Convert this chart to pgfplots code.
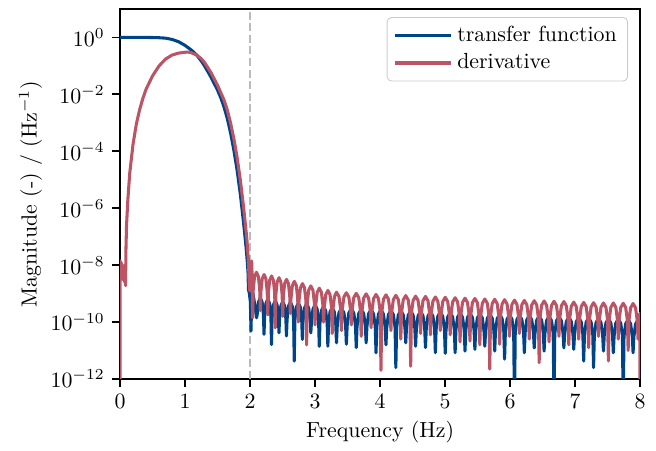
\documentclass[border=0pt]{standalone}
\usepackage{pgfplots}
\pgfplotsset{compat=1.18}
\definecolor{tolblue}{HTML}{004488}
\definecolor{tolred}{HTML}{BB5566}
\definecolor{dashgray}{HTML}{BBBBBB}
\begin{document}
\begin{tikzpicture}
\begin{axis}[
  scale only axis,
  width=237.8pt, height=169.2pt,
  xmin=0, xmax=8, ymin=1e-12, ymax=10,
  ymode=log,
  xtick={0,1,2,3,4,5,6,7,8},
  ytick={1e-12,1e-10,1e-8,1e-6,1e-4,1e-2,1},
  yminorticks=false,
  tick align=outside,
  tick pos=left,
  major tick length=3.5pt,
  every tick/.style={black, line width=0.8pt},
  axis line style={line width=0.8pt},
  xlabel={Frequency (Hz)},
  ylabel={Magnitude (-) / (Hz$^{-1}$)},
  ylabel shift=-3pt,
  xlabel shift=-1pt,
  legend style={at={(0.977,0.978)}, anchor=north east, draw=black!20, rounded corners=2pt, fill=white, fill opacity=0.8, text opacity=1, font=\normalsize},
  legend cell align=left,
  legend image code/.code={\draw[#1, line width=1.5pt] (0cm,0cm) -- (0.9cm,0cm);},
]
\addplot[forget plot, color=dashgray, dash pattern=on 3.7pt off 1.6pt, line width=1pt] coordinates {(2,1e-12) (2,10)};

% transfer function
\addplot[tolblue, line width=1.4pt, line join=round] coordinates {
(0,1) (0.4,1) (0.5,0.993) (0.6,0.977) (0.7,0.944) (0.8,0.851) (0.9,0.708) (1.0,0.525) (1.1,0.355) (1.18,0.24) (1.25,0.148) (1.3,0.1) (1.4,0.0398) (1.5,0.0141) (1.555,7.08e-3) (1.6,3.55e-3) (1.65,1.41e-3) (1.7,4.47e-4) (1.75,1.12e-4) (1.8,2.24e-5) (1.85,3.16e-6) (1.9,3.16e-7) (1.94,3.98e-8) (1.96,1.12e-8) (1.97,5.01e-9) (1.975,1.41e-9)
(1.99,1.0e-9) (2.005,5.0e-10) (2.015,4.79e-11) (2.025,7.94e-10) (2.04,1.12e-9) (2.06,6.31e-10) (2.085,2.51e-10) (2.10,1.41e-10)
(2.109,1.78e-10) (2.129,5.01e-10) (2.158,7.08e-10) (2.186,5.01e-10) (2.206,1.78e-10) (2.215,3.72e-11)
(2.224,1.58e-10) (2.244,4.47e-10) (2.273,6.31e-10) (2.301,4.47e-10) (2.321,1.58e-10) (2.33,1.62e-11)
(2.339,1.41e-10) (2.359,3.98e-10) (2.388,5.62e-10) (2.416,3.98e-10) (2.436,1.41e-10) (2.445,4.17e-11)
(2.454,1.32e-10) (2.474,3.72e-10) (2.503,5.25e-10) (2.531,3.72e-10) (2.551,1.32e-10) (2.56,3.24e-11)
(2.57,1.26e-10) (2.59,3.55e-10) (2.62,5.01e-10) (2.65,3.55e-10) (2.67,1.26e-10) (2.68,4.27e-12)
(2.69,1.17e-10) (2.711,3.31e-10) (2.743,4.68e-10) (2.774,3.31e-10) (2.795,1.17e-10) (2.805,2.45e-11)
(2.815,1.10e-10) (2.8375,3.09e-10) (2.87,4.37e-10) (2.9025,3.09e-10) (2.925,1.10e-10) (2.935,4.17e-11)
(2.945,1.0e-10) (2.9675,2.82e-10) (3.0,3.98e-10) (3.0325,2.82e-10) (3.055,1.0e-10) (3.065,1.41e-11)
(3.0755,8.91e-11) (3.098,2.51e-10) (3.131,3.55e-10) (3.164,2.51e-10) (3.1865,8.91e-11) (3.197,1.41e-11)
(3.2075,7.94e-11) (3.230,2.24e-10) (3.264,3.16e-10) (3.297,2.24e-10) (3.319,7.94e-11) (3.33,1.86e-11)
(3.342,7.59e-11) (3.368,2.14e-10) (3.406,3.02e-10) (3.444,2.14e-10) (3.470,7.59e-11) (3.482,1.66e-11)
(3.494,7.41e-11) (3.520,2.09e-10) (3.558,2.95e-10) (3.596,2.09e-10) (3.622,7.41e-11) (3.634,1.26e-11)
(3.646,7.08e-11) (3.672,2.0e-10) (3.710,2.82e-10) (3.748,2.0e-10) (3.774,7.08e-11) (3.786,1.86e-11)
(3.798,6.92e-11) (3.824,1.95e-10) (3.862,2.75e-10) (3.900,1.95e-10) (3.926,6.92e-11) (3.938,8.32e-12)
(3.950,6.76e-11) (3.976,1.91e-10) (4.014,2.69e-10) (4.052,1.91e-10) (4.078,6.76e-11) (4.091,1.58e-11)
(4.103,6.46e-11) (4.129,1.82e-10) (4.167,2.57e-10) (4.205,1.82e-10) (4.231,6.46e-11) (4.243,2.51e-12)
(4.255,6.31e-11) (4.281,1.78e-10) (4.319,2.51e-10) (4.357,1.78e-10) (4.383,6.31e-11) (4.395,1.86e-11)
(4.407,6.17e-11) (4.433,1.74e-10) (4.471,2.45e-10) (4.509,1.74e-10) (4.535,6.17e-11) (4.547,1.41e-11)
(4.559,5.89e-11) (4.585,1.66e-10) (4.623,2.34e-10) (4.661,1.66e-10) (4.687,5.89e-11) (4.699,1.26e-11)
(4.711,5.75e-11) (4.737,1.62e-10) (4.775,2.29e-10) (4.813,1.62e-10) (4.839,5.75e-11) (4.851,8.32e-12)
(4.863,5.62e-11) (4.889,1.58e-10) (4.927,2.24e-10) (4.965,1.58e-10) (4.991,5.62e-11) (5.003,7.94e-12)
(5.015,5.37e-11) (5.041,1.51e-10) (5.079,2.14e-10) (5.117,1.51e-10) (5.143,5.37e-11) (5.155,8.32e-12)
(5.167,5.25e-11) (5.193,1.48e-10) (5.231,2.09e-10) (5.269,1.48e-10) (5.295,5.25e-11) (5.307,9.55e-12)
(5.319,5.13e-11) (5.345,1.45e-10) (5.383,2.04e-10) (5.421,1.45e-10) (5.447,5.13e-11) (5.459,1.10e-11)
(5.471,4.90e-11) (5.497,1.38e-10) (5.535,1.95e-10) (5.573,1.38e-10) (5.599,4.90e-11) (5.612,1.41e-11)
(5.624,4.79e-11) (5.650,1.35e-10) (5.688,1.91e-10) (5.726,1.35e-10) (5.752,4.79e-11) (5.764,9.55e-12)
(5.776,4.68e-11) (5.802,1.32e-10) (5.840,1.86e-10) (5.878,1.32e-10) (5.904,4.68e-11) (5.916,5.01e-12)
(5.928,4.47e-11) (5.954,1.26e-10) (5.992,1.78e-10) (6.030,1.26e-10) (6.056,4.47e-11) (6.068,1e-13)
(6.080,4.37e-11) (6.106,1.23e-10) (6.144,1.74e-10) (6.182,1.23e-10) (6.208,4.37e-11) (6.220,8.32e-12)
(6.232,4.27e-11) (6.258,1.20e-10) (6.296,1.70e-10) (6.334,1.20e-10) (6.360,4.27e-11) (6.372,1.23e-11)
(6.384,4.07e-11) (6.410,1.15e-10) (6.448,1.62e-10) (6.486,1.15e-10) (6.512,4.07e-11) (6.524,9.55e-12)
(6.536,3.98e-11) (6.562,1.12e-10) (6.600,1.58e-10) (6.638,1.12e-10) (6.664,3.98e-11) (6.676,1e-13)
(6.688,3.89e-11) (6.714,1.10e-10) (6.752,1.55e-10) (6.790,1.10e-10) (6.816,3.89e-11) (6.828,1.23e-11)
(6.840,3.72e-11) (6.866,1.05e-10) (6.904,1.48e-10) (6.942,1.05e-10) (6.968,3.72e-11) (6.980,1.10e-11)
(6.992,3.63e-11) (7.018,1.02e-10) (7.056,1.45e-10) (7.094,1.02e-10) (7.120,3.63e-11) (7.133,4.27e-12)
(7.145,3.55e-11) (7.171,1.0e-10) (7.209,1.41e-10) (7.247,1.0e-10) (7.273,3.55e-11) (7.285,2.51e-12)
(7.297,3.39e-11) (7.323,9.55e-11) (7.361,1.35e-10) (7.399,9.55e-11) (7.425,3.39e-11) (7.437,9.55e-12)
(7.449,3.31e-11) (7.475,9.33e-11) (7.513,1.32e-10) (7.551,9.33e-11) (7.577,3.31e-11) (7.589,8.32e-12)
(7.601,3.24e-11) (7.627,9.12e-11) (7.665,1.29e-10) (7.703,9.12e-11) (7.729,3.24e-11) (7.741,1e-13)
(7.753,3.09e-11) (7.779,8.71e-11) (7.817,1.23e-10) (7.855,8.71e-11) (7.881,3.09e-11) (7.893,8.32e-12)
(7.905,3.02e-11) (7.931,8.51e-11) (7.969,1.20e-10) (7.995,9.0e-11) (8.0,7e-11)
};
\addlegendentry{transfer function}

% derivative
\addplot[tolred, line width=1.4pt, line join=round] coordinates {
(0,1e-13) (0.003,1.41e-8) (0.012,4e-9) (0.02,1.2e-8) (0.03,3.5e-9) (0.04,1.0e-8) (0.05,3e-9) (0.06,9e-9) (0.07,2.5e-9) (0.078,7e-9) (0.085,1.9e-9)
(0.09,3.0e-8) (0.1,2.51e-7) (0.12,2.0e-6) (0.15,1.78e-5) (0.2,1.78e-4) (0.25,8.9e-4) (0.3,2.82e-3) (0.35,7.08e-3) (0.4,1.51e-2) (0.5,4.47e-2) (0.6,0.1) (0.7,0.174) (0.8,0.24) (0.9,0.282) (1.0,0.302) (1.05,0.305) (1.1,0.288) (1.18,0.24) (1.25,0.178) (1.3,0.132) (1.4,0.0575) (1.5,0.0209) (1.6,6.31e-3) (1.65,2.82e-3) (1.7,1.0e-3) (1.75,2.82e-4) (1.8,6.31e-5) (1.85,1.0e-5) (1.9,1.12e-6) (1.95,8.9e-8) (1.975,1.41e-8) (1.985,3.16e-9) (1.995,1.26e-9) (2.005,1.0e-8) (2.015,2.51e-9) (2.025,1.41e-8) (2.032,3.98e-9) (2.04,1.41e-10)
(2.049,1.41e-9) (2.07,3.98e-9) (2.099,5.62e-9) (2.128,3.98e-9) (2.149,1.41e-9) (2.158,2.51e-10)
(2.167,1.17e-9) (2.187,3.31e-9) (2.2155,4.68e-9) (2.244,3.31e-9) (2.264,1.17e-9) (2.273,1.78e-10)
(2.282,1.05e-9) (2.302,2.95e-9) (2.3305,4.17e-9) (2.359,2.95e-9) (2.379,1.05e-9) (2.388,6.31e-11)
(2.397,9.1e-10) (2.417,2.57e-9) (2.4455,3.63e-9) (2.474,2.57e-9) (2.494,9.1e-10) (2.503,1.58e-10)
(2.512,7.94e-10) (2.532,2.24e-9) (2.5615,3.16e-9) (2.591,2.24e-9) (2.611,7.94e-10) (2.62,2.0e-10)
(2.63,6.76e-10) (2.651,1.91e-9) (2.6815,2.69e-9) (2.712,1.91e-9) (2.733,6.76e-10) (2.743,1.0e-10)
(2.753,5.62e-10) (2.775,1.58e-9) (2.8065,2.24e-9) (2.838,1.58e-9) (2.86,5.62e-10) (2.87,1.58e-11)
(2.88,4.68e-10) (2.9025,1.32e-9) (2.935,1.86e-9) (2.9675,1.32e-9) (2.99,4.68e-10) (3.0,7.94e-11)
(3.0105,3.89e-10) (3.033,1.10e-9) (3.0655,1.55e-9) (3.098,1.10e-9) (3.1205,3.89e-10) (3.131,1.0e-10)
(3.142,3.24e-10) (3.164,9.1e-10) (3.1975,1.29e-9) (3.231,9.1e-10) (3.253,3.24e-10) (3.264,3.98e-11)
(3.275,2.82e-10) (3.2995,7.94e-10) (3.33,1.12e-9) (3.368,7.94e-10) (3.394,2.82e-10) (3.406,5.01e-11)
(3.418,2.69e-10) (3.444,7.59e-10) (3.482,1.07e-9) (3.520,7.59e-10) (3.546,2.69e-10) (3.558,7.94e-11)
(3.570,2.57e-10) (3.596,7.24e-10) (3.634,1.02e-9) (3.672,7.24e-10) (3.698,2.57e-10) (3.710,3.16e-11)
(3.722,2.45e-10) (3.748,6.92e-10) (3.786,9.77e-10) (3.824,6.92e-10) (3.850,2.45e-10) (3.862,6.31e-11)
(3.874,2.34e-10) (3.900,6.61e-10) (3.938,9.33e-10) (3.976,6.61e-10) (4.002,2.34e-10) (4.014,2.0e-12)
(4.027,2.26e-10) (4.053,6.38e-10) (4.091,9.02e-10) (4.129,6.38e-10) (4.155,2.26e-10) (4.167,5.01e-11)
(4.179,2.19e-10) (4.205,6.17e-10) (4.243,8.71e-10) (4.281,6.17e-10) (4.307,2.19e-10) (4.319,2.51e-11)
(4.331,2.14e-10) (4.357,6.03e-10) (4.395,8.51e-10) (4.433,6.03e-10) (4.459,2.14e-10) (4.471,2.82e-12)
(4.483,2.04e-10) (4.509,5.75e-10) (4.547,8.13e-10) (4.585,5.75e-10) (4.611,2.04e-10) (4.623,3.98e-11)
(4.635,2.0e-10) (4.661,5.62e-10) (4.699,7.94e-10) (4.737,5.62e-10) (4.763,2.0e-10) (4.775,3.55e-11)
(4.787,1.91e-10) (4.813,5.37e-10) (4.851,7.59e-10) (4.889,5.37e-10) (4.915,1.91e-10) (4.927,5.01e-11)
(4.939,1.86e-10) (4.965,5.25e-10) (5.003,7.41e-10) (5.041,5.25e-10) (5.067,1.86e-10) (5.079,3.55e-11)
(5.091,1.80e-10) (5.117,5.07e-10) (5.155,7.16e-10) (5.193,5.07e-10) (5.219,1.80e-10) (5.231,2.0e-11)
(5.243,1.74e-10) (5.269,4.90e-10) (5.307,6.92e-10) (5.345,4.90e-10) (5.371,1.74e-10) (5.383,2.14e-11)
(5.395,1.70e-10) (5.421,4.79e-10) (5.459,6.76e-10) (5.497,4.79e-10) (5.523,1.70e-10) (5.535,1.58e-11)
(5.548,1.62e-10) (5.574,4.57e-10) (5.612,6.46e-10) (5.650,4.57e-10) (5.676,1.62e-10) (5.688,2.24e-12)
(5.700,1.58e-10) (5.726,4.47e-10) (5.764,6.31e-10) (5.802,4.47e-10) (5.828,1.58e-10) (5.840,1.66e-11)
(5.852,1.53e-10) (5.878,4.32e-10) (5.916,6.10e-10) (5.954,4.32e-10) (5.980,1.53e-10) (5.992,3.16e-11)
(6.004,1.48e-10) (6.030,4.17e-10) (6.068,5.89e-10) (6.106,4.17e-10) (6.132,1.48e-10) (6.144,3.98e-11)
(6.156,1.45e-10) (6.182,4.07e-10) (6.220,5.75e-10) (6.258,4.07e-10) (6.284,1.45e-10) (6.296,2.51e-11)
(6.308,1.41e-10) (6.334,3.98e-10) (6.372,5.62e-10) (6.410,3.98e-10) (6.436,1.41e-10) (6.448,3.72e-12)
(6.460,1.38e-10) (6.486,3.89e-10) (6.524,5.50e-10) (6.562,3.89e-10) (6.588,1.38e-10) (6.600,2.0e-11)
(6.612,1.35e-10) (6.638,3.80e-10) (6.676,5.37e-10) (6.714,3.80e-10) (6.740,1.35e-10) (6.752,3.16e-11)
(6.764,1.32e-10) (6.790,3.72e-10) (6.828,5.25e-10) (6.866,3.72e-10) (6.892,1.32e-10) (6.904,1.58e-11)
(6.916,1.26e-10) (6.942,3.55e-10) (6.980,5.01e-10) (7.018,3.55e-10) (7.044,1.26e-10) (7.056,2.51e-11)
(7.069,1.23e-10) (7.095,3.47e-10) (7.133,4.90e-10) (7.171,3.47e-10) (7.197,1.23e-10) (7.209,1.26e-11)
(7.221,1.20e-10) (7.247,3.39e-10) (7.285,4.79e-10) (7.323,3.39e-10) (7.349,1.20e-10) (7.361,3.16e-11)
(7.373,1.17e-10) (7.399,3.31e-10) (7.437,4.68e-10) (7.475,3.31e-10) (7.501,1.17e-10) (7.513,4.27e-12)
(7.525,1.17e-10) (7.551,3.31e-10) (7.589,4.68e-10) (7.627,3.31e-10) (7.653,1.17e-10) (7.665,2.51e-11)
(7.677,1.15e-10) (7.703,3.24e-10) (7.741,4.57e-10) (7.779,3.24e-10) (7.805,1.15e-10) (7.817,1.0e-11)
(7.829,1.12e-10) (7.855,3.16e-10) (7.893,4.47e-10) (7.931,3.16e-10) (7.957,1.12e-10) (7.969,2.51e-11)
(7.981,1.1e-10) (7.995,2.0e-10) (8.0,1e-13)
};
\addlegendentry{derivative}
\end{axis}
\path (current axis.south west) ++(-54.9pt,-29.3pt) rectangle ([xshift=7.3pt,yshift=4.1pt]current axis.north east);
\end{tikzpicture}
\end{document}
